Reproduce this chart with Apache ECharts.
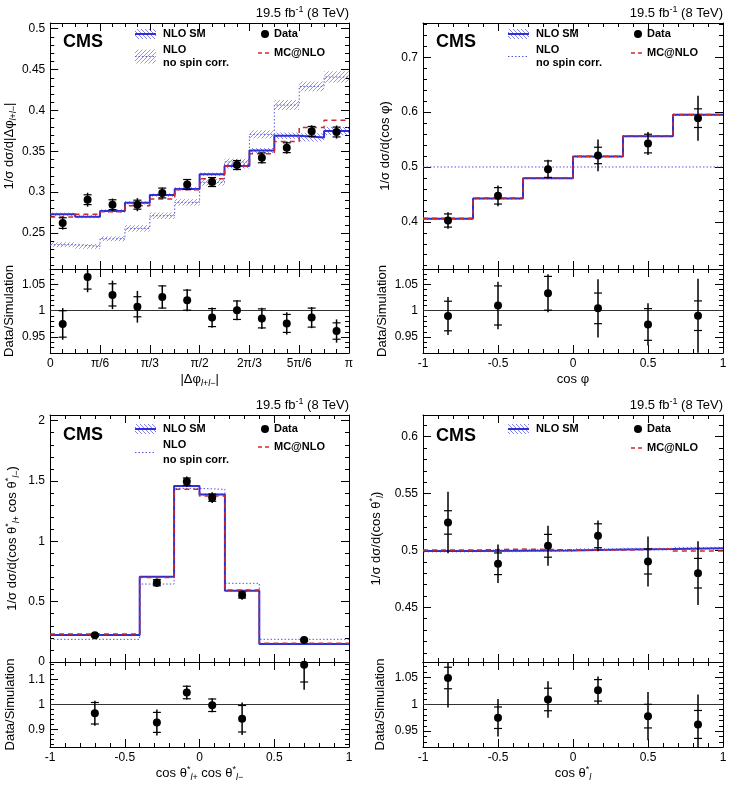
<!DOCTYPE html>
<html><head><meta charset="utf-8">
<script src="https://cdn.jsdelivr.net/npm/echarts@6/dist/echarts.min.js"></script>
<style>html,body{margin:0;padding:0;background:#fff}#c{width:730px;height:791px}</style>
</head><body><div id="c"></div>
<script>
// ================= DATA =================
// Panel 1: |Δφ(l+l−)| ; bin edges in units of π/12
const dphiEdges = [0,1,2,3,4,5,6,7,8,9,10,11,12];
const dphiTickLabels = ['0','π/6','π/3','π/2','2π/3','5π/6','π'];
const dphiNLO      = [0.273,0.270,0.277,0.287,0.2965,0.304,0.322,0.332,0.351,0.369,0.367,0.375];
const dphiNLOErr   = [0.002,0.002,0.002,0.002,0.002,0.002,0.002,0.003,0.003,0.004,0.005,0.005];
const dphiNoSpin   = [0.2357,0.2337,0.243,0.2557,0.2712,0.2875,0.312,0.337,0.3707,0.4066,0.4294,0.4409];
const dphiNoSpinErr= [0.003,0.003,0.003,0.004,0.004,0.004,0.004,0.004,0.005,0.006,0.006,0.007];
const dphiMC       = [0.2696,0.273,0.276,0.2835,0.2916,0.303,0.3165,0.3316,0.347,0.362,0.379,0.388];
const dphiData     = [0.2622,0.2908,0.2847,0.2847,0.299,0.3095,0.3124,0.3332,0.342,0.3544,0.3744,0.3736];
const dphiDataStat = [0.0065,0.006,0.006,0.0055,0.006,0.006,0.0055,0.0055,0.006,0.006,0.006,0.006];
const dphiDataTot  = [0.008,0.0085,0.0075,0.008,0.0065,0.0065,0.006,0.0065,0.007,0.0075,0.0075,0.008];
const dphiRatio    = [0.975,1.064,1.030,1.0075,1.026,1.020,0.987,1.001,0.9855,0.976,0.987,0.9616];
const dphiRatioStat= [0.025,0.023,0.021,0.019,0.021,0.019,0.017,0.0175,0.018,0.017,0.018,0.0155];
const dphiRatioTot = [0.030,0.029,0.027,0.030,0.022,0.021,0.019,0.019,0.020,0.021,0.020,0.022];

// Panel 2: cos φ
const cphiEdges    = [-1,-2/3,-1/3,0,1/3,2/3,1];
const cphiNLO      = [0.4055,0.4425,0.4795,0.519,0.556,0.595];
const cphiNLOErr   = [0.002,0.002,0.002,0.002,0.002,0.002];
const cphiNoSpin   = [0.5,0.5,0.5,0.5,0.5,0.5];
const cphiMC       = [0.4065,0.4435,0.4805,0.5195,0.557,0.5955];
const cphiData     = [0.4024,0.4474,0.496,0.521,0.5427,0.589];
const cphiDataStat = [0.012,0.015,0.015,0.015,0.017,0.017];
const cphiDataTot  = [0.015,0.019,0.017,0.029,0.021,0.041];
const cphiRatio    = [0.990,1.010,1.033,1.0045,0.974,0.9906];
const cphiRatioStat= [0.028,0.037,0.032,0.029,0.030,0.028];
const cphiRatioTot = [0.036,0.045,0.036,0.055,0.040,0.070];

// Panel 3: cos θ*(l+) cos θ*(l−)
const ccEdges      = [-1,-0.4,-0.17,0,0.17,0.4,1];
const ccNLO        = [0.224,0.707,1.458,1.389,0.591,0.149];
const ccNLOErr     = [0.004,0.006,0.008,0.008,0.006,0.004];
const ccNoSpin     = [0.188,0.646,1.439,1.431,0.652,0.188];
const ccMC         = [0.232,0.700,1.431,1.375,0.597,0.155];
const ccData       = [0.221,0.657,1.495,1.362,0.555,0.182];
const ccDataStat   = [0.008,0.025,0.030,0.030,0.025,0.008];
const ccDataTot    = [0.011,0.035,0.042,0.045,0.040,0.012];
const ccRatio      = [0.964,0.9275,1.047,0.996,0.942,1.158];
const ccRatioStat  = [0.043,0.040,0.025,0.025,0.053,0.069];
const ccRatioTot   = [0.050,0.052,0.028,0.028,0.065,0.100];

// Panel 4: cos θ*(l)
const clEdges      = [-1,-2/3,-1/3,0,1/3,2/3,1];
const clNLO        = [0.4995,0.4997,0.5,0.5008,0.5012,0.502];
const clNLOErr     = [0.0012,0.0012,0.0012,0.0012,0.0012,0.0012];
const clMC         = [0.5003,0.5012,0.5005,0.5003,0.5014,0.4995];
const clData       = [0.5246,0.4883,0.5041,0.5129,0.4903,0.480];
const clDataStat   = [0.0103,0.0095,0.010,0.0105,0.011,0.013];
const clDataTot    = [0.027,0.017,0.0175,0.0135,0.022,0.028];
const clRatio      = [1.049,0.975,1.009,1.026,0.978,0.9625];
const clRatioStat  = [0.020,0.020,0.021,0.020,0.022,0.026];
const clRatioTot   = [0.055,0.035,0.034,0.026,0.045,0.056];

// ================= STYLE / HELPERS =================
const F = '"Liberation Sans", Arial, Helvetica, sans-serif';
const BLUE = '#2f2fd2', RED = '#d02828', DOT = '#5656e0';

function hatch(dir, color) {
  const c = document.createElement('canvas'); c.width = 4; c.height = 4;
  const g = c.getContext('2d'); g.strokeStyle = color; g.lineWidth = 0.9;
  g.beginPath();
  if (dir === '/') { g.moveTo(0,4); g.lineTo(4,0); g.moveTo(-1,1); g.lineTo(1,-1); g.moveTo(3,5); g.lineTo(5,3); }
  else { g.moveTo(0,0); g.lineTo(4,4); g.moveTo(-1,3); g.lineTo(1,5); g.moveTo(3,-1); g.lineTo(5,1); }
  g.stroke();
  return { image: c, repeat: 'repeat' };
}
const hatchSM = hatch('\\', 'rgba(95,95,225,0.85)');
const hatchNS = hatch('/', 'rgba(110,110,230,0.8)');

function centers(edges) { return edges.slice(0, -1).map((e, i) => (e + edges[i + 1]) / 2); }
function stepData(edges, vals) { return edges.map((e, i) => [e, vals[Math.min(i, vals.length - 1)]]); }
function bandData(edges, vals, errs) { return vals.map((v, i) => [edges[i], edges[i + 1], v, errs[i]]); }
function errData(edges, vals, st, tot) { const c = centers(edges); return vals.map((v, i) => [c[i], v, st[i], tot[i]]); }
function ptData(edges, vals) { const c = centers(edges); return vals.map((v, i) => [c[i], v]); }

const rich = {
  sub: { fontSize: 9, lineHeight: 9, verticalAlign: 'bottom', fontFamily: F, color: '#000' },
  subi: { fontSize: 9, lineHeight: 9, verticalAlign: 'bottom', fontFamily: F, color: '#000', fontStyle: 'italic' },
  sup: { fontSize: 9, lineHeight: 9, verticalAlign: 'top', fontFamily: F, color: '#000' }
};
const nameStyle = { fontSize: 13, fontFamily: F, color: '#000', lineHeight: 17, rich: rich };
const numFmt = v => String(parseFloat((+v).toFixed(4)));

function xPair(gi, o) {
  const base = {
    type: 'value', gridIndex: gi, min: o.min, max: o.max,
    minInterval: o.step, maxInterval: o.step, splitNumber: Math.round((o.max - o.min) / o.step),
    axisLine: { show: true, onZero: false, lineStyle: { color: '#000', width: 1 } },
    axisTick: { show: true, inside: true, length: 8, lineStyle: { color: '#000', width: 1 } },
    minorTick: { show: true, splitNumber: o.minor, length: 4, lineStyle: { color: '#000', width: 1 } },
    splitLine: { show: false }, minorSplitLine: { show: false }
  };
  const b = Object.assign({}, base, {
    position: 'bottom',
    axisLabel: o.labels ? { show: true, fontSize: 12, fontFamily: F, color: '#000', margin: 5,
      formatter: o.fmt || numFmt, showMinLabel: true, showMaxLabel: true } : { show: false }
  });
  if (o.name) Object.assign(b, { name: o.name, nameLocation: 'middle', nameGap: o.gap, nameTextStyle: nameStyle });
  const t = Object.assign({}, base, { position: 'top', axisLabel: { show: false } });
  return [b, t];
}
function yPair(gi, o) {
  const base = {
    type: 'value', gridIndex: gi, min: o.min, max: o.max,
    minInterval: o.step, maxInterval: o.step, splitNumber: Math.round((o.max - o.min) / o.step),
    axisLine: { show: true, onZero: false, lineStyle: { color: '#000', width: 1 } },
    axisTick: { show: true, inside: true, length: 8, lineStyle: { color: '#000', width: 1 } },
    minorTick: { show: true, splitNumber: o.minor, length: 4, lineStyle: { color: '#000', width: 1 } },
    splitLine: { show: false }, minorSplitLine: { show: false }
  };
  const l = Object.assign({}, base, {
    position: 'left',
    axisLabel: { show: true, fontSize: 12, fontFamily: F, color: '#000', margin: 5, formatter: numFmt,
      showMinLabel: !!o.showMin, showMaxLabel: false },
    name: o.name, nameLocation: 'middle', nameGap: o.gap, nameTextStyle: nameStyle
  });
  const r = Object.assign({}, base, { position: 'right', axisLabel: { show: false } });
  return [l, r];
}

function bandRender(pattern) {
  return function (params, api) {
    const a = api.coord([api.value(0), api.value(2) + api.value(3)]);
    const b = api.coord([api.value(1), api.value(2) - api.value(3)]);
    return { type: 'rect', shape: { x: a[0], y: a[1], width: b[0] - a[0], height: Math.max(b[1] - a[1], 1.5) },
      style: { fill: pattern, stroke: null } };
  };
}
function errRender(params, api) {
  const x = api.value(0), v = api.value(1), s = api.value(2), t = api.value(3);
  const cs = params.coordSys;
  const p = api.coord([x, v]);
  const yt = Math.max(api.coord([x, v + t])[1], cs.y);
  const yb = Math.min(api.coord([x, v - t])[1], cs.y + cs.height);
  const ch = [{ type: 'line', shape: { x1: p[0], y1: yt, x2: p[0], y2: yb }, style: { stroke: '#000', lineWidth: 1.5 } }];
  [api.coord([x, v + s])[1], api.coord([x, v - s])[1]].forEach(y => {
    if (y >= cs.y && y <= cs.y + cs.height)
      ch.push({ type: 'line', shape: { x1: p[0] - 4, y1: y, x2: p[0] + 4, y2: y }, style: { stroke: '#000', lineWidth: 1.2 } });
  });
  return { type: 'group', children: ch };
}

const series = [];
function ax(gi) { return { xAxisIndex: 2 * gi, yAxisIndex: 2 * gi }; }
function addBand(gi, edges, vals, errs, pat) {
  series.push(Object.assign({ type: 'custom', renderItem: bandRender(pat), data: bandData(edges, vals, errs),
    encode: { x: [0, 1], y: [2] }, z: 1, silent: true }, ax(gi)));
}
function addStep(gi, edges, vals, color, width, dash) {
  series.push(Object.assign({ type: 'line', step: 'end', symbol: 'none', showSymbol: false, data: stepData(edges, vals),
    lineStyle: { color: color, width: width, type: dash || 'solid' }, z: 3, silent: true, clip: true }, ax(gi)));
}
function addData(gi, edges, vals, st, tot, withLine) {
  series.push(Object.assign({ type: 'custom', renderItem: errRender, data: errData(edges, vals, st, tot),
    encode: { x: 0, y: 1 }, z: 5, silent: true }, ax(gi)));
  const sc = Object.assign({ type: 'scatter', symbol: 'circle', symbolSize: 8, data: ptData(edges, vals),
    itemStyle: { color: '#000', opacity: 1 }, z: 6, silent: true, clip: true }, ax(gi));
  if (withLine) sc.markLine = { silent: true, symbol: 'none', label: { show: false },
    lineStyle: { color: '#333', width: 1, type: 'solid' }, data: [{ yAxis: 1 }] };
  series.push(sc);
}

// Panel 1
addBand(0, dphiEdges, dphiNoSpin, dphiNoSpinErr, hatchNS);
addBand(0, dphiEdges, dphiNLO, dphiNLOErr, hatchSM);
addStep(0, dphiEdges, dphiNoSpin, DOT, 1, [1.5, 2]);
addStep(0, dphiEdges, dphiNLO, BLUE, 2);
addStep(0, dphiEdges, dphiMC, RED, 1.5, [5, 4]);
addData(0, dphiEdges, dphiData, dphiDataStat, dphiDataTot);
addData(1, dphiEdges, dphiRatio, dphiRatioStat, dphiRatioTot, true);
// Panel 2
addBand(2, cphiEdges, cphiNLO, cphiNLOErr, hatchSM);
addStep(2, cphiEdges, cphiNoSpin, DOT, 1, [1.5, 2]);
addStep(2, cphiEdges, cphiNLO, BLUE, 2);
addStep(2, cphiEdges, cphiMC, RED, 1.5, [5, 4]);
addData(2, cphiEdges, cphiData, cphiDataStat, cphiDataTot);
addData(3, cphiEdges, cphiRatio, cphiRatioStat, cphiRatioTot, true);
// Panel 3
addBand(4, ccEdges, ccNLO, ccNLOErr, hatchSM);
addStep(4, ccEdges, ccNoSpin, DOT, 1, [1.5, 2]);
addStep(4, ccEdges, ccNLO, BLUE, 2);
addStep(4, ccEdges, ccMC, RED, 1.5, [5, 4]);
addData(4, ccEdges, ccData, ccDataStat, ccDataTot);
addData(5, ccEdges, ccRatio, ccRatioStat, ccRatioTot, true);
// Panel 4
addBand(6, clEdges, clNLO, clNLOErr, hatchSM);
addStep(6, clEdges, clNLO, BLUE, 2);
addStep(6, clEdges, clMC, RED, 1.5, [5, 4]);
addData(6, clEdges, clData, clDataStat, clDataTot);
addData(7, clEdges, clRatio, clRatioStat, clRatioTot, true);

const grids = [
  { left: 50, top: 23, width: 299, height: 246 },
  { left: 50, top: 269, width: 299, height: 84 },
  { left: 423, top: 23, width: 300, height: 246 },
  { left: 423, top: 269, width: 300, height: 84 },
  { left: 50, top: 415, width: 299, height: 247 },
  { left: 50, top: 662, width: 299, height: 85 },
  { left: 423, top: 415, width: 300, height: 247 },
  { left: 423, top: 662, width: 300, height: 85 }
];

const dphiFmt = v => dphiTickLabels[Math.round(v / 2)] || '';
const xAxes = [].concat(
  xPair(0, { min: 0, max: 12, step: 2, minor: 4 }),
  xPair(1, { min: 0, max: 12, step: 2, minor: 4, labels: true, fmt: dphiFmt, name: '|Δφ{subi|l}{sub|+}{subi|l}{sub|−}|', gap: 17 }),
  xPair(2, { min: -1, max: 1, step: 0.5, minor: 5 }),
  xPair(3, { min: -1, max: 1, step: 0.5, minor: 5, labels: true, name: 'cos φ', gap: 17 }),
  xPair(4, { min: -1, max: 1, step: 0.5, minor: 5 }),
  xPair(5, { min: -1, max: 1, step: 0.5, minor: 5, labels: true, name: 'cos θ{sup|*}{subi|l}{sub|+} cos θ{sup|*}{subi|l}{sub|−}', gap: 17 }),
  xPair(6, { min: -1, max: 1, step: 0.5, minor: 5 }),
  xPair(7, { min: -1, max: 1, step: 0.5, minor: 5, labels: true, name: 'cos θ{sup|*}{subi|l}', gap: 17 })
);
const yAxes = [].concat(
  yPair(0, { min: 0.206, max: 0.507, step: 0.05, minor: 5, name: '1/σ dσ/d|Δφ{subi|l}{sub|+}{subi|l}{sub|−}|', gap: 31 }),
  yPair(1, { min: 0.92, max: 1.079, step: 0.05, minor: 5, name: 'Data/Simulation', gap: 31 }),
  yPair(2, { min: 0.314, max: 0.7625, step: 0.1, minor: 5, name: '1/σ dσ/d(cos φ)', gap: 29 }),
  yPair(3, { min: 0.92, max: 1.079, step: 0.05, minor: 5, name: 'Data/Simulation', gap: 31 }),
  yPair(4, { min: 0, max: 2.047, step: 0.5, minor: 5, showMin: true, name: '1/σ dσ/d(cos θ{sup|*}{subi|l}{sub|+} cos θ{sup|*}{subi|l}{sub|−})', gap: 29 }),
  yPair(5, { min: 0.829, max: 1.169, step: 0.1, minor: 5, name: 'Data/Simulation', gap: 31 }),
  yPair(6, { min: 0.402, max: 0.619, step: 0.05, minor: 5, name: '1/σ dσ/d(cos θ{sup|*}{subi|l})', gap: 38 }),
  yPair(7, { min: 0.9205, max: 1.0788, step: 0.05, minor: 5, name: 'Data/Simulation', gap: 34 })
);

// ================= TEXT / LEGENDS =================
function txt(x, y, s, o) {
  o = o || {};
  return { type: 'text', x: x, y: y, z: 100, style: Object.assign({
    text: s, fill: '#000', fontSize: 11, fontWeight: 'bold', fontFamily: F,
    textAlign: 'left', align: 'left', textVerticalAlign: 'middle', verticalAlign: 'middle' }, o) };
}
const graphics = [];
function panelText(L, R, yLumi, cmsY, leg) {
  graphics.push(txt(R, yLumi, '19.5 fb{sup|-1} (8 TeV)', { fontSize: 13, fontWeight: 'normal', textAlign: 'right', align: 'right',
    lineHeight: 15, rich: { sup: { fontSize: 9, lineHeight: 9, verticalAlign: 'top', fontFamily: F, fill: '#000' } } }));
  graphics.push(txt(L + 13, cmsY, 'CMS', { fontSize: 18 }));
  const y1 = leg.y1;
  graphics.push({ type: 'rect', z: 100, shape: { x: L + 85, y: y1 - 5, width: 21, height: 10 }, style: { fill: hatchSM } });
  graphics.push({ type: 'line', z: 100, shape: { x1: L + 85, y1: y1, x2: L + 106, y2: y1 }, style: { stroke: BLUE, lineWidth: 2 } });
  graphics.push(txt(L + 113, y1, 'NLO SM'));
  if (leg.ns) {
    const ym = (leg.yNLO + leg.yNS) / 2;
    if (leg.ns === 'band')
      graphics.push({ type: 'rect', z: 100, shape: { x: L + 85, y: ym - 7, width: 21, height: 14 }, style: { fill: hatchNS } });
    graphics.push({ type: 'line', z: 100, shape: { x1: L + 85, y1: ym, x2: L + 106, y2: ym }, style: { stroke: DOT, lineWidth: 1, lineDash: [1.5, 2] } });
    graphics.push(txt(L + 113, leg.yNLO, 'NLO'));
    graphics.push(txt(L + 113, leg.yNS, 'no spin corr.'));
  }
  graphics.push({ type: 'circle', z: 100, shape: { cx: L + 215, cy: y1, r: 4 }, style: { fill: '#000' } });
  graphics.push(txt(L + 224, y1, 'Data'));
  graphics.push({ type: 'line', z: 100, shape: { x1: L + 208, y1: leg.yMC, x2: L + 221, y2: leg.yMC }, style: { stroke: RED, lineWidth: 1.5, lineDash: [4, 3] } });
  graphics.push(txt(L + 224, leg.yMC, 'MC@NLO'));
}
panelText(50, 349, 13, 42, { y1: 34, yNLO: 50, yNS: 63, yMC: 53, ns: 'band' });
panelText(423, 723, 13, 42, { y1: 34, yNLO: 50, yNS: 63, yMC: 53, ns: 'line' });
panelText(50, 349, 405, 435, { y1: 429, yNLO: 445, yNS: 460, yMC: 447, ns: 'line' });
panelText(423, 723, 405, 436, { y1: 429, yMC: 448 });

const chart = echarts.init(document.getElementById('c'), null, { renderer: 'canvas', width: 730, height: 791 });
chart.setOption({
  backgroundColor: '#fff',
  animation: false,
  grid: grids,
  xAxis: xAxes,
  yAxis: yAxes,
  series: series,
  graphic: { elements: graphics }
});
</script>
</body></html>
